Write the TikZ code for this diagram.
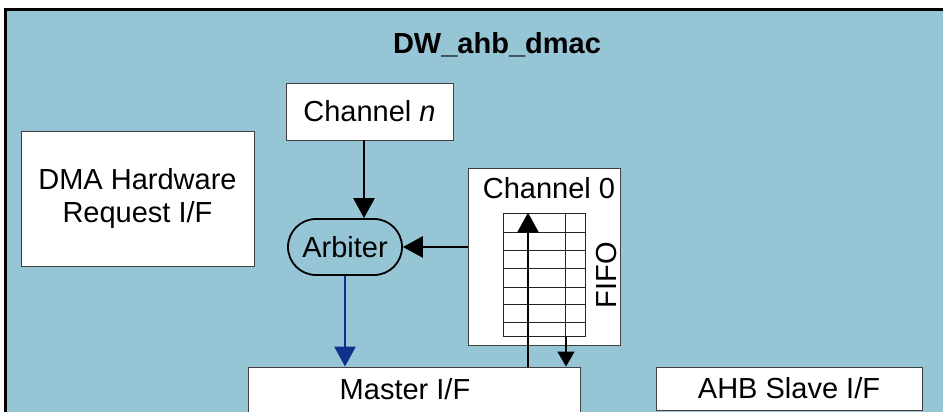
\documentclass[tikz,border=0pt]{standalone}
\usepackage{fontspec}
\setmainfont{Liberation Sans}
\usetikzlibrary{arrows.meta,shapes.misc}
\definecolor{bgblue}{RGB}{150,197,214}
\definecolor{darkblue}{RGB}{16,48,140}
\begin{document}
\begin{tikzpicture}[x=1pt,y=-1pt,
  lbl/.style={font=\fontsize{29}{33}\selectfont},
  box/.style={draw=black!75,line width=0.9pt,fill=white,inner sep=0pt,lbl,align=center},
  arr/.style={line width=2.8pt,-{Triangle[width=21pt,length=20pt]}},
  thinarr/.style={line width=1.3pt,-{Triangle[width=17pt,length=15pt]}},
  gridline/.style={line width=1pt,draw=black!85}]
\useasboundingbox (0,0) rectangle (943,412);
\clip (0,0) rectangle (943,412);
% outer module
\draw[line width=3pt,fill=bgblue] (5,10) rectangle (980,440);
\node[lbl,font=\fontsize{29}{33}\selectfont\bfseries] (title) at (497,45) {DW\_ahb\_dmac};
% boxes
\node[box,minimum width=167,minimum height=57] (chn) at (369.5,111.5) {Channel \textit{n}};
\node[box,minimum width=233,minimum height=135] (dma) at (137.5,198.5) {DMA Hardware\\Request I/F};
\node[draw=black,line width=1.8pt,rounded rectangle,minimum width=114,minimum height=56,inner sep=0pt,lbl] (arb) at (345,247) {Arbiter};
\node[box,minimum width=152,minimum height=177] (ch0) at (544,256.5) {};
\node[lbl,anchor=center] (ch0t) at (549,188) {Channel 0};
\node[gridline,draw,minimum width=82,minimum height=123,inner sep=0pt] (fifo) at (544,274.5) {};
\foreach \yy in {232,250,268,287,304,322}
  \draw[gridline] (fifo.west |- 0,\yy) -- (fifo.east |- 0,\yy);
\coordinate (xv) at (565,0);
\draw[gridline] (fifo.north -| xv) -- (fifo.south -| xv);
\node[lbl,rotate=90] (fifot) at (607,275) {FIFO};
\node[box,minimum width=332,minimum height=70] (master) at (414,402) {};
\node[lbl] (mastert) at (405,389) {Master I/F};
\node[box,minimum width=266,minimum height=43] (slave) at (789,388.5) {AHB Slave I/F};
% connectors
\coordinate (xa) at (364,0);
\draw[arr] (chn.south -| xa) -- (arb.north -| xa);
\draw[arr] (ch0.west |- arb.east) -- (arb.east);
\draw[arr,darkblue] (arb.south) -- (arb.south |- master.north);
\coordinate (xu) at (528,0);
\draw[arr] (master.north -| xu) -- (fifo.north -| xu);
\coordinate (xd) at (566,0);
\draw[thinarr] (fifo.south -| xd) -- (master.north -| xd);
\end{tikzpicture}
\end{document}
